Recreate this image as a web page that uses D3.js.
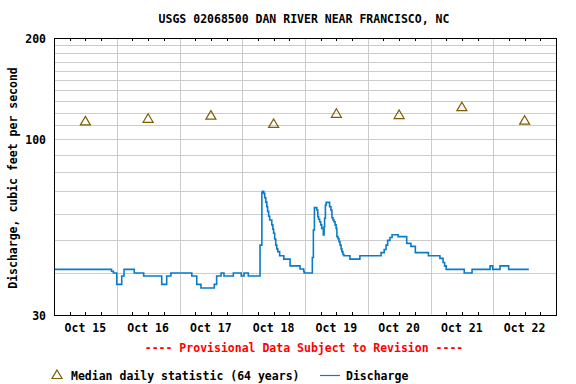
<!DOCTYPE html>
<html>
<head>
<meta charset="utf-8">
<script src="https://cdn.jsdelivr.net/npm/d3@7"></script>
<style>
  body { margin: 0; background: #fff; }
  text { font-family: "DejaVu Sans Mono", monospace; font-weight: bold; font-size: 11.5px; }
</style>
</head>
<body>
<svg id="chart" width="576" height="384"></svg>
<script>
// Chart data
const title = 'USGS 02068500 DAN RIVER NEAR FRANCISCO, NC';
const dayLabels = ['Oct 15', 'Oct 16', 'Oct 17', 'Oct 18', 'Oct 19', 'Oct 20', 'Oct 21', 'Oct 22'];
const yTickValues = [30, 100, 200];
const yGridValues = [40, 50, 60, 70, 80, 90, 100, 110, 120, 130, 140, 150, 160, 170, 180, 190];

// Median daily statistic (64 years), one per day at noon
const medianValues = [113, 115, 117.5, 111, 119, 118, 124.5, 113.5];

// Discharge steps: [hours since Oct 15 00:00, cfs]
const flowSteps = [
    [0, 41], [22.0, 40.5], [22.7, 40], [24.0, 37], [25.9, 39.2], [26.8, 41],
    [30.7, 40], [34.3, 39.2], [41.2, 37], [43.1, 39.2], [44.7, 40], [52.7, 39.2],
    [54.6, 37], [56.2, 36.1], [61.3, 37], [62.2, 39.2], [63.9, 40], [65.0, 39.2],
    [68.6, 40], [71.6, 39.2], [72.7, 40], [74.3, 39.2],
    [78.8, 48.4], [79.5, 69.5], [79.8, 70], [80.2, 69], [80.6, 67], [81.0, 65],
    [81.4, 63], [81.7, 61], [82.1, 59], [82.5, 57.5], [83.3, 55.6], [83.7, 54],
    [84.0, 52.5], [84.4, 50.5], [84.8, 48.4], [85.2, 47.2], [85.6, 46.3], [86.3, 45],
    [87.9, 44], [90.3, 42], [94.1, 41.1], [95.5, 40.4], [95.7, 40],
    [98.8, 44.5], [99.2, 53.7], [99.6, 62.6], [100.5, 61.6], [100.9, 58.8],
    [101.2, 57.8], [101.6, 56.8], [102.0, 55.6], [102.4, 54.3], [103.0, 51.9],
    [103.3, 54.9], [103.5, 58.2], [103.8, 63.7], [104.1, 64.9], [105.4, 63.0],
    [105.9, 61.6], [106.3, 58.4], [106.7, 57.5], [107.1, 56.8], [107.5, 55.6],
    [107.9, 54.3], [108.2, 51.3], [108.6, 50.6], [109.0, 49.6], [109.4, 48.4],
    [109.8, 47.2], [110.1, 46.3], [110.5, 45.4], [110.9, 45], [113.2, 44],
    [117.0, 45], [125.1, 46], [126.3, 47], [127.0, 48.4], [127.6, 50], [128.5, 51],
    [129.3, 52], [131.6, 51.3], [134.9, 49], [136.5, 48], [138.2, 46], [143.2, 45],
    [147.6, 44.2], [148.8, 43], [149.4, 42], [150.0, 41], [156.9, 40], [159.9, 41],
    [166.8, 42], [167.8, 41], [170.6, 42], [173.9, 41], [181.6, 41]
];

// Layout
const plot = { left: 54, right: 556, top: 38, bottom: 315 };
const start = new Date(2000, 9, 15);
const hoursToDate = h => new Date(start.getTime() + h * 3600e3);

const svg = d3.select('#chart');

const x = d3.scaleTime()
    .domain([start, d3.timeDay.offset(start, 8)])
    .range([plot.left, plot.right]);

const y = d3.scaleLog()
    .domain([30, 200])
    .range([plot.bottom, plot.top]);

// Title
svg.append('text')
    .attr('x', 304).attr('y', 23)
    .attr('text-anchor', 'middle')
    .text(title);

// Grid
const grid = svg.append('g').attr('shape-rendering', 'crispEdges').attr('stroke', '#cccccc');
grid.selectAll('.hgrid')
    .data(yGridValues)
    .join('line')
    .attr('x1', plot.left).attr('x2', plot.right)
    .attr('y1', d => Math.round(y(d)) + 0.5).attr('y2', d => Math.round(y(d)) + 0.5);

const dayBounds = d3.timeDay.range(d3.timeDay.offset(start, 1), d3.timeDay.offset(start, 8));
grid.selectAll('.vgrid')
    .data(dayBounds)
    .join('line')
    .attr('x1', d => Math.round(x(d)) + 0.5).attr('x2', d => Math.round(x(d)) + 0.5)
    .attr('y1', plot.top).attr('y2', plot.bottom);

// Minor 6-hour ticks along the top and bottom edges
const sixHours = d3.timeHour.every(6).range(start, d3.timeDay.offset(start, 8))
    .filter(d => d.getHours() !== 0);
const ticks = svg.append('g').attr('stroke', '#000').attr('shape-rendering', 'crispEdges');
ticks.selectAll('.tt')
    .data(sixHours)
    .join('line')
    .attr('x1', d => Math.round(x(d)) + 0.5).attr('x2', d => Math.round(x(d)) + 0.5)
    .attr('y1', plot.top).attr('y2', plot.top + 3);
ticks.selectAll('.bt')
    .data(sixHours)
    .join('line')
    .attr('x1', d => Math.round(x(d)) + 0.5).attr('x2', d => Math.round(x(d)) + 0.5)
    .attr('y1', plot.bottom - 3).attr('y2', plot.bottom);

// Discharge line
const line = d3.line()
    .x(d => x(hoursToDate(d[0])))
    .y(d => y(d[1]))
    .curve(d3.curveStepAfter);

svg.append('path')
    .datum(flowSteps)
    .attr('fill', 'none')
    .attr('stroke', '#0a7bc9')
    .attr('stroke-width', 1.6)
    .attr('d', line);

// Median triangles
const tri = 'M0,-5L5,3.5L-5,3.5Z';
svg.selectAll('.median')
    .data(medianValues)
    .join('path')
    .attr('d', tri)
    .attr('transform', (d, i) => `translate(${x(hoursToDate(i * 24 + 12))},${y(d)})`)
    .attr('fill', 'none')
    .attr('stroke', '#7f5a00')
    .attr('stroke-width', 1.2);

// Plot frame
svg.append('rect')
    .attr('x', plot.left + 0.5).attr('y', plot.top + 0.5)
    .attr('width', plot.right - plot.left).attr('height', plot.bottom - plot.top)
    .attr('fill', 'none').attr('stroke', '#000')
    .attr('shape-rendering', 'crispEdges');

// Y tick labels
svg.selectAll('.ylab')
    .data(yTickValues)
    .join('text')
    .attr('x', 46).attr('y', d => y(d) + 4.5)
    .attr('text-anchor', 'end')
    .text(d => d);

// X day labels at noon
svg.selectAll('.xlab')
    .data(dayLabels)
    .join('text')
    .attr('x', (d, i) => x(hoursToDate(i * 24 + 12)))
    .attr('y', 332)
    .attr('text-anchor', 'middle')
    .text(d => d);

// Y axis title
svg.append('text')
    .attr('transform', 'translate(17,178) rotate(-90)')
    .attr('text-anchor', 'middle')
    .text('Discharge, cubic feet per second');

// Provisional note
svg.append('text')
    .attr('x', 304).attr('y', 352)
    .attr('text-anchor', 'middle')
    .attr('fill', '#ff0000')
    .text('---- Provisional Data Subject to Revision ----');

// Legend
svg.append('path')
    .attr('d', tri)
    .attr('transform', 'translate(57,375)')
    .attr('fill', 'none').attr('stroke', '#7f5a00').attr('stroke-width', 1.2);
svg.append('text').attr('x', 71).attr('y', 380).text('Median daily statistic (64 years)');
svg.append('line')
    .attr('x1', 320).attr('x2', 340).attr('y1', 375.5).attr('y2', 375.5)
    .attr('stroke', '#0a7bc9').attr('stroke-width', 1.2);
svg.append('text').attr('x', 346).attr('y', 380).text('Discharge');
</script>
</body>
</html>
